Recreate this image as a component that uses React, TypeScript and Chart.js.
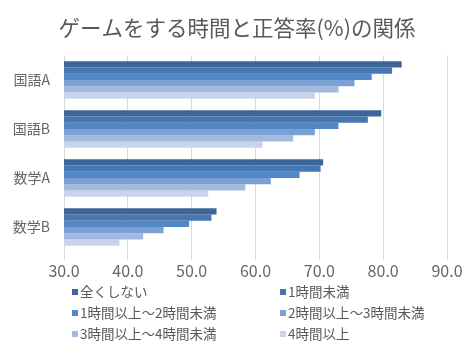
import React, { useEffect, useRef } from "react";
import { Chart, registerables } from "chart.js";

Chart.register(...registerables);

const titleText = "ゲームをする時間と正答率(%)の関係";
const categories = ["国語A", "国語B", "数学A", "数学B"];
const seriesNames = [
  "全くしない",
  "1時間未満",
  "1時間以上～2時間未満",
  "2時間以上～3時間未満",
  "3時間以上～4時間未満",
  "4時間以上",
];
const seriesColors = ["#3D6598", "#4677B0", "#5288C7", "#7BA0D3", "#A2BAE0", "#C7D4EC"];
const noPlay = [82.9, 79.7, 70.6, 53.9];
const under1h = [81.4, 77.6, 70.2, 53.1];
const h1to2 = [78.2, 73.0, 66.9, 49.6];
const h2to3 = [75.5, 69.3, 62.4, 45.6];
const h3to4 = [73.0, 65.9, 58.4, 42.4];
const over4h = [69.3, 61.1, 52.6, 38.7];
const seriesValues = [noPlay, under1h, h1to2, h2to3, h3to4, over4h];
const xMin = 30;
const xMax = 90;
const xStep = 10;

const FONT = "'Noto Sans CJK JP', 'Noto Sans', sans-serif";

const titlePlugin = {
  id: "centerTitle",
  afterDraw(chart: any) {
    const ctx = chart.ctx;
    ctx.save();
    ctx.font = `21.5px ${FONT}`;
    ctx.textBaseline = "middle";
    ctx.textAlign = "center";
    ctx.fillStyle = "#595959";
    ctx.fillText(titleText, chart.width / 2, 28);
    ctx.restore();
  },
};

const legendPlugin = {
  id: "twoColLegend",
  afterDraw(chart: any) {
    const ctx = chart.ctx;
    const colX = [72, 280];
    const rowY = [292, 313, 334];
    ctx.save();
    ctx.font = `13.5px ${FONT}`;
    ctx.textBaseline = "middle";
    ctx.textAlign = "left";
    chart.data.datasets.forEach((ds: any, i: number) => {
      const x = colX[i % 2];
      const y = rowY[Math.floor(i / 2)];
      ctx.fillStyle = ds.backgroundColor;
      ctx.fillRect(x, y - 3, 6, 6);
      ctx.fillStyle = "#595959";
      ctx.fillText(ds.label, x + 8, y);
    });
    ctx.restore();
  },
};

export default function App() {
  const ref = useRef<HTMLCanvasElement>(null);
  useEffect(() => {
    document.body.style.margin = "0";
    const chart = new Chart(ref.current!, {
      type: "bar",
      data: {
        labels: categories,
        datasets: seriesNames.map((name, i) => ({
          label: name,
          data: seriesValues[i],
          backgroundColor: seriesColors[i],
          borderWidth: 0,
          barPercentage: 1,
          categoryPercentage: 0.765,
        })),
      },
      options: {
        indexAxis: "y",
        animation: false,
        responsive: false,
        layout: { padding: { left: 0, right: 27, top: 55.5, bottom: 73.5 } },
        plugins: {
          legend: { display: false },
          tooltip: { enabled: false },
          title: { display: false },
        },
        scales: {
          x: {
            min: xMin,
            max: xMax,
            ticks: {
              stepSize: xStep,
              color: "#666666",
              font: { family: FONT, size: 16 },
              padding: 2,
              callback: (v: any) => Number(v).toFixed(1),
            },
            grid: { color: "#D9D9D9", tickLength: 8, drawTicks: true },
            border: { display: false },
            afterFit: (s: any) => {
              s.height = 30;
            },
          },
          y: {
            ticks: {
              color: "#666666",
              font: { family: FONT, size: 14 },
              padding: 14,
            },
            grid: { display: false, drawTicks: false },
            border: { display: false },
            afterFit: (s: any) => {
              s.width = 64;
            },
          },
        },
      },
      plugins: [titlePlugin, legendPlugin],
    } as any);
    return () => chart.destroy();
  }, []);
  return (
    <div style={{ width: 474, height: 355, background: "#fff" }}>
      <canvas ref={ref} width={474} height={355} style={{ display: "block" }} />
    </div>
  );
}
